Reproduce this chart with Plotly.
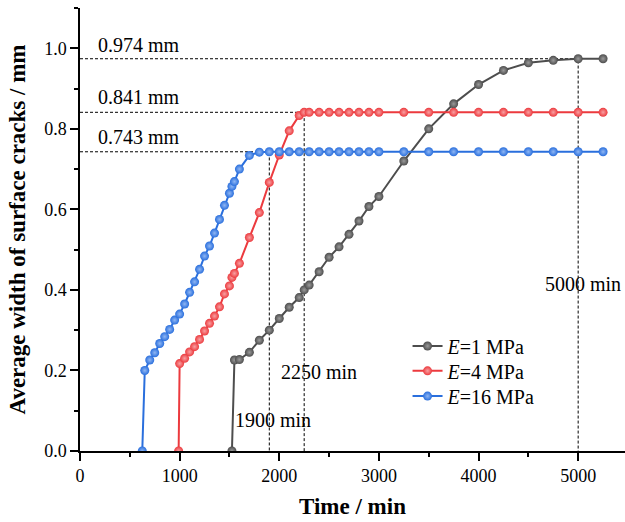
import plotly.graph_objects as go

# ---- data ----
t_e1 = [1525, 1550, 1600, 1700, 1800, 1900, 2000, 2100, 2200, 2250, 2300, 2400, 2500,
        2600, 2700, 2800, 2900, 3000, 3250, 3500, 3750, 4000, 4250, 4500, 4750, 5000, 5250]
w_e1 = [0.0, 0.226, 0.227, 0.245, 0.275, 0.300, 0.329, 0.357, 0.381, 0.400, 0.412, 0.445, 0.481,
        0.507, 0.538, 0.571, 0.607, 0.632, 0.720, 0.800, 0.862, 0.910, 0.945, 0.964, 0.970, 0.974, 0.974]

t_e4 = [990, 1000, 1050, 1100, 1150, 1200, 1250, 1300, 1350, 1400, 1450, 1500, 1525, 1550,
        1600, 1700, 1800, 1900, 2000, 2100, 2200, 2250, 2300, 2400, 2500, 2600, 2700, 2800,
        2900, 3000, 3250, 3500, 3750, 4000, 4250, 4500, 4750, 5000, 5250]
w_e4 = [0.0, 0.217, 0.230, 0.246, 0.259, 0.277, 0.298, 0.317, 0.335, 0.358, 0.390, 0.410, 0.431, 0.441,
        0.466, 0.530, 0.592, 0.667, 0.735, 0.795, 0.833, 0.841, 0.841, 0.841, 0.841, 0.841, 0.841, 0.841,
        0.841, 0.841, 0.841, 0.841, 0.841, 0.841, 0.841, 0.841, 0.841, 0.841, 0.841]

t_e16 = [625, 650, 700, 750, 800, 850, 900, 950, 1000, 1050, 1100, 1150, 1200, 1250, 1300,
         1350, 1400, 1450, 1500, 1525, 1550, 1600, 1700, 1800, 1900, 2000, 2100, 2200, 2300,
         2400, 2500, 2600, 2700, 2800, 2900, 3000, 3250, 3500, 3750, 4000, 4250, 4500, 4750,
         5000, 5250]
w_e16 = [0.0, 0.200, 0.226, 0.244, 0.267, 0.284, 0.302, 0.325, 0.340, 0.365, 0.394, 0.420, 0.451, 0.484, 0.509,
         0.541, 0.575, 0.610, 0.640, 0.657, 0.669, 0.700, 0.734, 0.742, 0.743, 0.743, 0.743, 0.743, 0.743,
         0.743, 0.743, 0.743, 0.743, 0.743, 0.743, 0.743, 0.743, 0.743, 0.743, 0.743, 0.743, 0.743, 0.743,
         0.743, 0.743]

series_names = ["<i>E</i>=1 MPa", "<i>E</i>=4 MPa", "<i>E</i>=16 MPa"]

# reference marks (plateau widths and times)
ref_widths = [0.974, 0.841, 0.743]
ref_times = [5000, 2250, 1900]
ref_width_labels = ["0.974 mm", "0.841 mm", "0.743 mm"]
ref_time_labels = ["5000 min", "2250 min", "1900 min"]

FONT = "Liberation Serif, Times New Roman, serif"

fig = go.Figure()

# dashed guide lines
for w, t in zip(ref_widths, ref_times):
    fig.add_trace(go.Scatter(x=[0, t, t], y=[w, w, 0], mode="lines",
                             line=dict(color="black", width=1, dash="3px,2px"),
                             showlegend=False, hoverinfo="skip"))

styles = [("#4d4d4d", "#9a9a9a"), ("#ec3a3e", "#f8a0a2"), ("#2a6fdd", "#8fb6f3")]
legend_ids = ["legend", "legend2", "legend3"]
for (t, w), name, (c, hl), lg in zip([(t_e1, w_e1), (t_e4, w_e4), (t_e16, w_e16)],
                                     series_names, styles, legend_ids):
    fig.add_trace(go.Scatter(
        x=t, y=w, mode="lines+markers", name=name, legend=lg,
        line=dict(color=c, width=2),
        marker=dict(symbol="circle", size=9, color=c,
                    gradient=dict(type="radial", color=hl),
                    line=dict(width=0)),
    ))

annos = []
for lab, yy in zip(ref_width_labels, [1.009, 0.879, 0.780]):
    annos.append(dict(x=160, y=yy, text=lab, showarrow=False, xanchor="left", yanchor="middle",
                      font=dict(family=FONT, size=20, color="black")))
for lab, xx, yy in zip(ref_time_labels, [4642, 2002, 1531], [0.414, 0.196, 0.076]):
    annos.append(dict(x=xx, y=yy, text=lab, showarrow=False, xanchor="left", yanchor="middle",
                      font=dict(family=FONT, size=20, color="black")))

leg_common = dict(x=0.601, xanchor="left", yanchor="middle",
                  bgcolor="rgba(0,0,0,0)", font=dict(family=FONT, size=20))

fig.update_layout(
    width=625, height=522,
    margin=dict(l=80, r=0, t=8, b=71, pad=0),
    paper_bgcolor="white", plot_bgcolor="white",
    font=dict(family=FONT, size=18, color="black"),
    annotations=annos,
    legend=dict(y=0.237, **leg_common),
    legend2=dict(y=0.181, **leg_common),
    legend3=dict(y=0.124, **leg_common),
    xaxis=dict(range=[0, 5470], tick0=0, dtick=1000, showgrid=False, zeroline=False,
               showline=True, linecolor="black", linewidth=1.5,
               ticks="outside", ticklen=8, tickwidth=1.5, tickcolor="black",
               minor=dict(dtick=500, ticks="outside", ticklen=4, tickwidth=1.5, tickcolor="black"),
               tickfont=dict(family=FONT, size=18),
               title=dict(text="<b>Time / min</b>", font=dict(family=FONT, size=23), standoff=13)),
    yaxis=dict(range=[0, 1.1], tick0=0, dtick=0.2, tickformat=".1f", showgrid=False, zeroline=False,
               showline=True, linecolor="black", linewidth=1.5,
               ticks="outside", ticklen=8, tickwidth=1.5, tickcolor="black",
               minor=dict(dtick=0.1, ticks="outside", ticklen=4, tickwidth=1.5, tickcolor="black"),
               tickfont=dict(family=FONT, size=18),
               title=dict(text="<b>Average width of surface cracks / mm</b>",
                          font=dict(family=FONT, size=23), standoff=12)),
)

fig.write_html("out.html")
